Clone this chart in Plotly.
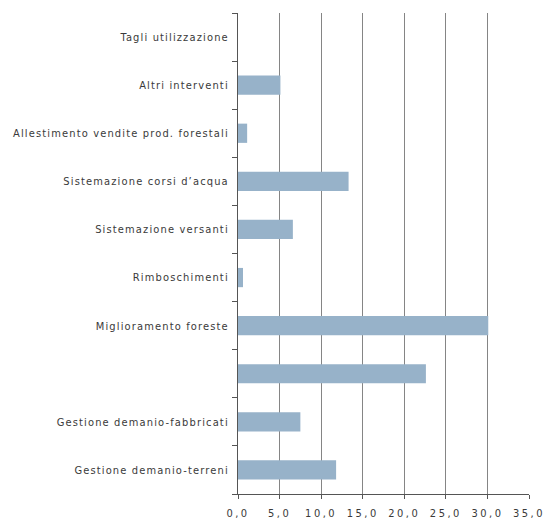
import plotly.graph_objects as go

categories = [
    "Gestione demanio-terreni",
    "Gestione demanio-fabbricati",
    " ",
    "Miglioramento foreste",
    "Rimboschimenti",
    "Sistemazione versanti",
    "Sistemazione corsi d’acqua",
    "Allestimento vendite prod. forestali",
    "Altri interventi",
    "Tagli utilizzazione",
]
values = [11.8, 7.5, 22.6, 30.1, 0.6, 6.6, 13.3, 1.1, 5.1, 0.0]
x_ticks = [0, 5, 10, 15, 20, 25, 30, 35]

font_family = "DejaVu Sans Condensed, Liberation Sans Narrow, Arial Narrow, sans-serif"

fig = go.Figure(
    go.Bar(
        x=values,
        y=categories,
        orientation="h",
        marker=dict(color="#97B2C9", line=dict(width=0)),
        width=0.4,
    )
)

fig.update_layout(
    width=545,
    height=521,
    margin=dict(l=238, r=16, t=13, b=27, autoexpand=False),
    paper_bgcolor="white",
    plot_bgcolor="white",
    separators=", ",
    showlegend=False,
    font=dict(family=font_family, size=11, color="#3a3a3a"),
)

fig.update_xaxes(
    range=[0, 35],
    tickvals=x_ticks,
    tickformat=".1f",
    showgrid=True,
    gridcolor="#858585",
    gridwidth=1,
    zeroline=False,
    showline=True,
    linecolor="#555555",
    linewidth=1,
    ticks="outside",
    ticklen=4,
    tickcolor="#555555",
    tickfont=dict(size=11),
    ticklabelstandoff=5,
    automargin=False,
)

fig.update_yaxes(
    categoryorder="array",
    categoryarray=categories,
    tickson="boundaries",
    ticks="outside",
    ticklen=5,
    tickcolor="#555555",
    showline=True,
    linecolor="#555555",
    linewidth=1,
    showgrid=False,
    tickfont=dict(size=11),
    ticklabelstandoff=6,
    automargin=False,
)

post = """
var s = document.createElement('style');
s.textContent = 'html, body { margin: 0 !important; padding: 0 !important; overflow: hidden; } .ytick text { letter-spacing: 1.15px; } .xtick text { letter-spacing: 2.5px; }';
document.head.appendChild(s);
"""

fig.write_html("out.html", post_script=post, config={"displayModeBar": False})
